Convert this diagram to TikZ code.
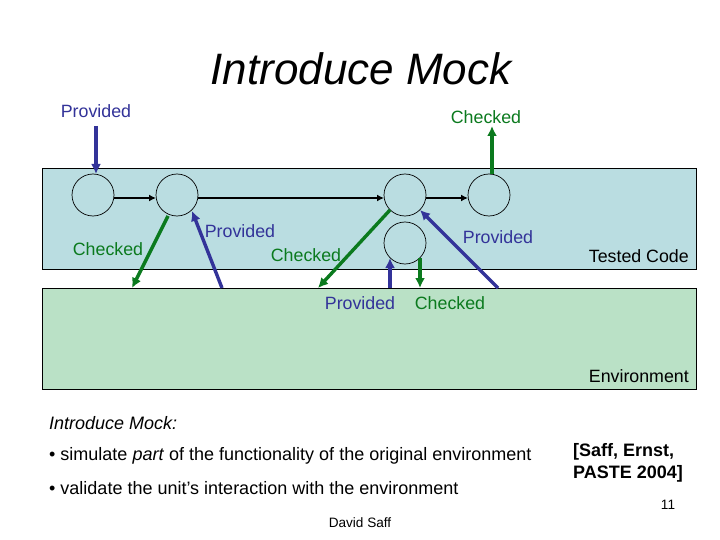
\documentclass[tikz,border=0pt]{standalone}
\usepackage{fontspec}
\setmainfont{Liberation Sans}
\usetikzlibrary{arrows.meta}
\definecolor{testedfill}{HTML}{BADDE1}
\definecolor{envfill}{HTML}{BAE1C6}
\definecolor{provblue}{HTML}{333399}
\definecolor{checkgreen}{HTML}{0B7A1E}
\tikzset{
  x=1pt,y=-1pt,
  panel/.style={draw=black,line width=1pt,minimum width=654pt,minimum height=101pt,inner sep=0pt,outer sep=0pt,anchor=north west},
  unit/.style={circle,draw=black,line width=0.7pt,minimum size=42pt,inner sep=0pt},
  flow/.style={draw=black,line width=1.5pt,-{Latex[length=7pt,width=7pt]}},
  prov/.style={draw=provblue,line width=3.4pt,-{Latex[length=10pt,width=10pt]}},
  chk/.style={draw=checkgreen,line width=3.4pt,-{Latex[length=10pt,width=10pt]}},
  lab/.style={font=\fontsize{17.8}{20}\selectfont,inner sep=0pt},
  provlab/.style={lab,text=provblue},
  chklab/.style={lab,text=checkgreen},
  blacklab/.style={lab,text=black},
  small/.style={font=\fontsize{13.6}{15}\selectfont,inner sep=0pt,text=black},
}
\begin{document}
\begin{tikzpicture}
\useasboundingbox (0,0) rectangle (720,540);
\fill[white] (0,0) rectangle (720,540);
\node[panel,fill=testedfill] (tested) at (42.5,168.5) {};
\node[panel,fill=envfill] (env) at (42.5,288.5) {};
\node[unit] (u1) at (93,195) {};
\node[unit] (u2) at (177,195) {};
\node[unit] (u3) at (405,195) {};
\node[unit] (u4) at (489,195) {};
\node[unit] (u5) at (405,243) {};
\node[font=\fontsize{44}{50}\selectfont\itshape,inner sep=0pt] (title) at (361,69) {Introduce Mock};
\node[provlab] (p1) at (96,111) {Provided};
\node[chklab] (c1) at (486,117) {Checked};
\node[chklab] (c2) at (108,249) {Checked};
\node[provlab] (p2) at (240,231) {Provided};
\node[chklab] (c3) at (306,255) {Checked};
\node[provlab] (p3) at (498,237) {Provided};
\node[provlab] (p4) at (360,303) {Provided};
\node[chklab] (c4) at (450,303) {Checked};
\node[blacklab,anchor=east] (tc) at (689,256) {Tested Code};
\node[blacklab,anchor=east] (ev) at (689,376) {Environment};
\coordinate (a1s) at (96,126);
\coordinate (a1e) at (96,174);
\coordinate (a2s) at (492,174);
\coordinate (a2e) at (492,126);
\coordinate (a3s) at (168,216);
\coordinate (a3e) at (132,288);
\coordinate (a4s) at (222,288);
\coordinate (a4e) at (192,211);
\coordinate (a5s) at (390,210);
\coordinate (a5e) at (318,288);
\coordinate (a6s) at (498,288);
\coordinate (a6e) at (420,210);
\coordinate (a7s) at (390,288);
\coordinate (a7e) at (390,258);
\coordinate (a8s) at (420,258);
\coordinate (a8e) at (420,288);
\coordinate (f2s) at (198,198);
\coordinate (f2e) at (384,198);
\coordinate (f1s) at (114,198);
\coordinate (f1e) at (156,198);
\coordinate (f3s) at (426,198);
\coordinate (f3e) at (468,198);
\draw[prov] (a1s) -- (a1e);
\draw[chk] (a2s) -- (a2e);
\draw[chk] (a3s) -- (a3e);
\draw[prov] (a4s) -- (a4e);
\draw[chk] (a5s) -- (a5e);
\draw[prov] (a6s) -- (a6e);
\draw[prov] (a7s) -- (a7e);
\draw[chk] (a8s) -- (a8e);
\draw[flow] (f1s) -- (f1e);
\draw[flow] (f2s) -- (f2e);
\draw[flow] (f3s) -- (f3e);
\node[lab,anchor=west,font=\fontsize{18}{20}\selectfont\itshape] (h) at (49,423) {Introduce Mock:};
\node[lab,anchor=west,font=\fontsize{18}{20}\selectfont] (b1) at (49,456) {• simulate \textit{part} of the functionality of the original environment};
\node[lab,anchor=west,font=\fontsize{18}{20}\selectfont] (b2) at (49,488) {• validate the unit’s interaction with the environment};
\node[lab,anchor=west,align=left,font=\fontsize{18}{22}\selectfont\bfseries] (cite) at (573,463) {[Saff, Ernst,\\PASTE 2004]};
\node[small] (num) at (668,505) {11};
\node[small] (auth) at (360,523) {David Saff};
\end{tikzpicture}
\end{document}
